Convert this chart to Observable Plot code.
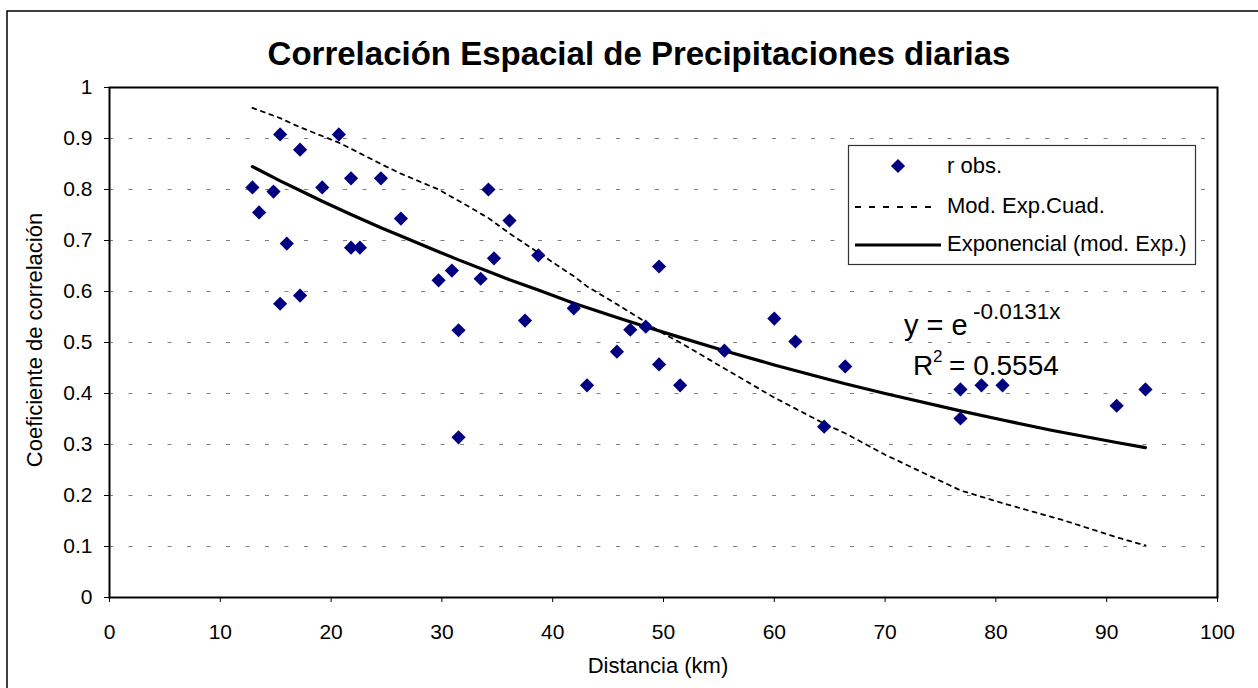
<!DOCTYPE html>
<html><head><meta charset="utf-8">
<script src="https://cdn.jsdelivr.net/npm/d3@7"></script>
<script src="https://cdn.jsdelivr.net/npm/@observablehq/plot@0.6"></script>
<style>
body{margin:0;background:#fff;}
#wrap{position:relative;width:1258px;height:688px;overflow:hidden;}
svg text{font-family:"Liberation Sans",Arial,sans-serif;}
</style></head><body><div id="wrap"></div>
<script>
// Observed correlations (distance km, r)
const obsDist = [12.9,13.5,14.8,15.4,15.4,16.0,17.2,17.2,19.2,20.7,21.8,21.8,22.6,24.5,26.3,29.7,30.9,31.5,31.5,33.5,34.2,34.7,36.1,37.5,38.7,41.9,43.1,45.8,47.0,48.4,49.6,49.6,51.5,55.5,60.0,61.9,64.5,66.4,76.8,76.8,78.7,80.6,90.9,93.5];
const obsR    = [0.804,0.755,0.796,0.908,0.576,0.694,0.878,0.592,0.804,0.908,0.822,0.686,0.686,0.822,0.743,0.622,0.641,0.524,0.314,0.625,0.800,0.665,0.739,0.543,0.671,0.567,0.416,0.482,0.525,0.531,0.649,0.457,0.416,0.484,0.547,0.502,0.335,0.453,0.408,0.351,0.416,0.416,0.376,0.408];
// Exponential trend line (mod. Exp.)
const expDist = [12.9,15.4,17.2,19.2,21.8,24.5,26.3,29.7,31.5,34.2,36.1,38.7,41.9,45.8,48.4,51.5,55.5,60.0,64.5,66.4,70.0,76.8,80.6,85.0,90.9,93.5];
const expR    = [0.845,0.817,0.798,0.777,0.751,0.725,0.709,0.678,0.662,0.639,0.623,0.603,0.577,0.549,0.531,0.510,0.484,0.456,0.430,0.419,0.400,0.366,0.348,0.328,0.304,0.294];
// Mod. Exp.Cuad. curve
const cuadDist = [12.9,15.4,17.2,20.7,24.5,26.3,29.7,31.5,34.2,36.1,38.7,41.9,43.1,45.8,48.4,49.6,51.5,55.5,60.0,64.5,66.4,70.0,76.8,80.6,86.0,90.9,93.5];
const cuadR    = [0.960,0.940,0.922,0.892,0.850,0.831,0.800,0.778,0.744,0.714,0.676,0.630,0.610,0.575,0.540,0.522,0.500,0.449,0.392,0.341,0.322,0.280,0.210,0.185,0.152,0.118,0.102];
const xTicks = [0,10,20,30,40,50,60,70,80,90,100];
const yTicks = [0,0.1,0.2,0.3,0.4,0.5,0.6,0.7,0.8,0.9,1];
const gridTicks = [0.1,0.2,0.3,0.4,0.5,0.6,0.7,0.8,0.9];
const titleText = "Correlación Espacial de Precipitaciones diarias";
const xLabel = "Distancia (km)";
const yLabel = "Coeficiente de correlación";
const legendLabels = ["r obs.","Mod. Exp.Cuad.","Exponencial (mod. Exp.)"];

const obs = obsDist.map((d,i)=>({d, r: obsR[i]}));
const expo = expDist.map((d,i)=>({d, r: expR[i]}));
const cuad = cuadDist.map((d,i)=>({d, r: cuadR[i]}));

const NAVY = "#000080";
const chart = Plot.plot({
  width: 1258, height: 688,
  marginLeft: 109, marginRight: 41, marginTop: 87, marginBottom: 91,
  style: {fontFamily: '"Liberation Sans",Arial,sans-serif', fontSize: "21px", background: "#fff", color: "#000"},
  x: {domain: [0,100]},
  y: {domain: [0,1]},
  marks: [
    Plot.ruleY(gridTicks, {stroke: "#808080", strokeWidth: 1, strokeDasharray: "4,15.5"}),
    Plot.line(cuad, {x: "d", y: "r", stroke: "#000", strokeWidth: 1.8, strokeDasharray: "4,5"}),
    Plot.line(expo, {x: "d", y: "r", stroke: "#000", strokeWidth: 3.2}),
    Plot.dot(obs, {x: "d", y: "r", symbol: "diamond2", fill: NAVY, stroke: "none", r: 6.4}),
    Plot.frame({stroke: "#000", strokeWidth: 2}),
    Plot.axisX({ticks: xTicks, tickSize: 5, tickPadding: 22, label: null, fontSize: 21, tickFormat: d => String(d)}),
    Plot.axisY({ticks: yTicks, tickSize: 5, tickPadding: 12, label: null, fontSize: 21, tickFormat: d => String(d)})
  ]
});
document.getElementById("wrap").appendChild(chart);

const svg = d3.select(chart);
// outer chart frame
svg.append("rect").attr("x", 7).attr("y", 11).attr("width", 1300).attr("height", 700)
  .attr("fill", "none").attr("stroke", "#000").attr("stroke-width", 1.5);
// title
svg.append("text").attr("x", 639).attr("y", 65).attr("text-anchor", "middle")
  .attr("font-size", 33).attr("font-weight", "bold").attr("fill", "#000").text(titleText);
// axis labels
svg.append("text").attr("x", 658).attr("y", 673).attr("text-anchor", "middle")
  .attr("font-size", 22).attr("fill", "#000").text(xLabel);
svg.append("text").attr("transform", "translate(42,340) rotate(-90)").attr("text-anchor", "middle")
  .attr("font-size", 22).attr("fill", "#000").text(yLabel);

// legend
const lg = svg.append("g").attr("text-anchor", "start");
lg.append("rect").attr("x", 848.5).attr("y", 145.5).attr("width", 347).attr("height", 119)
  .attr("fill", "#fff").attr("stroke", "#333").attr("stroke-width", 1.2);
lg.append("path").attr("d", d3.symbol(d3.symbolDiamond2, Math.PI * 6.4 * 6.4)()).attr("transform", "translate(898,166)").attr("fill", NAVY);
lg.append("line").attr("x1", 855).attr("x2", 937).attr("y1", 207).attr("y2", 207)
  .attr("stroke", "#000").attr("stroke-width", 1.8).attr("stroke-dasharray", "6,8");
lg.append("line").attr("x1", 855).attr("x2", 941).attr("y1", 245).attr("y2", 245)
  .attr("stroke", "#000").attr("stroke-width", 3.2);
const ly = [173, 213, 251];
legendLabels.forEach((t,i) => lg.append("text").attr("x", 947).attr("y", ly[i]).attr("text-anchor", "start").attr("font-size", 22).attr("fill", "#000").text(t));

// equation
const eq = svg.append("g").attr("fill", "#000").attr("text-anchor", "start");
eq.append("text").attr("x", 904).attr("y", 335).attr("font-size", 29).text("y = e");
eq.append("text").attr("x", 973).attr("y", 319).attr("font-size", 22.5).text("-0.0131x");
eq.append("text").attr("x", 913).attr("y", 375).attr("font-size", 28).text("R");
eq.append("text").attr("x", 933).attr("y", 362).attr("font-size", 17).text("2");
eq.append("text").attr("x", 949).attr("y", 375).attr("font-size", 28).text("= 0.5554");
</script>
</body></html>
